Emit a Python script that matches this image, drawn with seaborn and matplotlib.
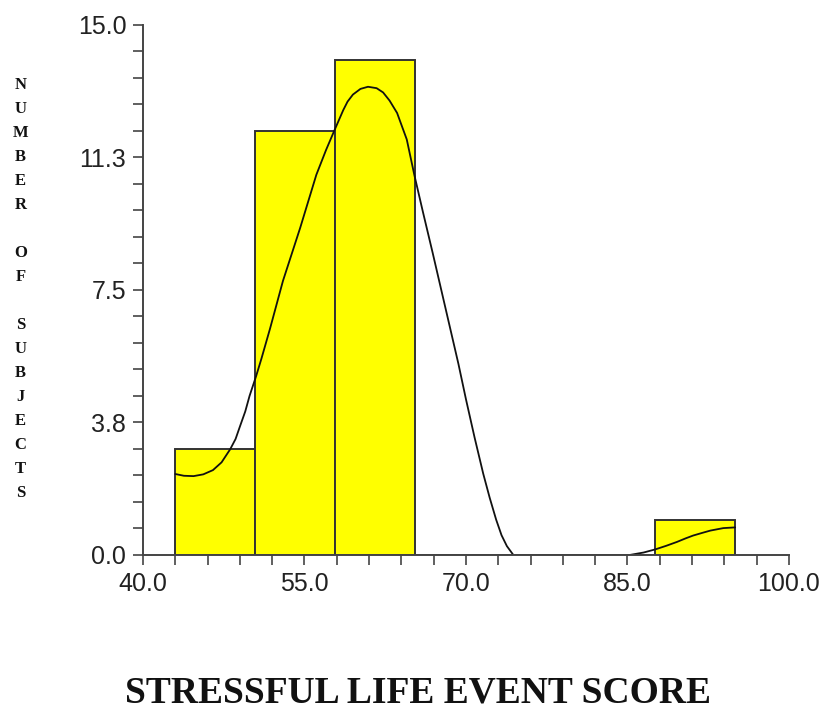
import matplotlib
matplotlib.use("Agg")
import matplotlib.pyplot as plt
from matplotlib.ticker import FixedLocator, FixedFormatter
import seaborn as sns

# Histogram of stressful life event scores (7 equal-width bins, 43 to 95)
bin_edges = [43.0, 50.43, 57.86, 65.29, 72.71, 80.14, 87.57, 95.0]
subject_counts = [3, 12, 14, 0, 0, 0, 1]

# Smoothed density curve, scaled to the count axis
curve_x = [43.0, 43.8, 44.7, 45.6, 46.5, 47.3, 48.1, 48.6, 49.0, 49.5, 49.9,
           50.5, 51.0, 51.8, 53.0, 54.6, 56.1, 57.0, 57.7, 58.6, 59.0, 59.5,
           60.2, 60.9, 61.7, 62.3, 62.9, 63.6, 64.5, 65.2, 66.0, 66.9, 67.7,
           68.5, 69.3, 70.0, 70.8, 71.6, 72.2, 72.8, 73.3, 73.8, 74.4, 80.0,
           85.2, 86.5, 87.6, 88.6, 89.6, 90.4, 91.1, 92.0, 92.7, 93.9, 95.0]
curve_y = [2.29, 2.24, 2.23, 2.28, 2.40, 2.62, 2.99, 3.28, 3.63, 4.06, 4.50,
           5.05, 5.55, 6.40, 7.75, 9.25, 10.75, 11.45, 11.95, 12.58, 12.82, 13.02,
           13.18, 13.24, 13.20, 13.08, 12.85, 12.50, 11.75, 10.75, 9.70, 8.55, 7.50,
           6.45, 5.40, 4.40, 3.32, 2.30, 1.62, 1.00, 0.56, 0.25, 0.0, 0.0,
           0.0, 0.07, 0.16, 0.26, 0.37, 0.47, 0.55, 0.63, 0.69, 0.76, 0.78]

# Axis ticks and labels
x_major = [40, 55, 70, 85, 100]
x_major_labels = ["40.0", "55.0", "70.0", "85.0", "100.0"]
y_major = [0, 3.75, 7.5, 11.25, 15]
y_major_labels = ["0.0", "3.8", "7.5", "11.3", "15.0"]

y_title = "NUMBER OF SUBJECTS"
x_title = "STRESSFUL LIFE EVENT SCORE"

sns.set_style("ticks")
plt.rcParams["font.family"] = ["Liberation Sans", "DejaVu Sans"]

fig = plt.figure(figsize=(8.26, 7.15), dpi=100)
ax = fig.add_axes([0.1731, 0.2238, 0.7821, 0.7419])

centers = [(a + b) / 2 for a, b in zip(bin_edges[:-1], bin_edges[1:])]
sns.histplot(x=centers, weights=subject_counts, bins=bin_edges, ax=ax,
             color="#FFFF00", alpha=1.0, edgecolor="#333333", linewidth=1.4)
sns.lineplot(x=curve_x, y=curve_y, ax=ax, color="#111111", linewidth=1.3,
             sort=False, estimator=None)

ax.set_xlim(40, 100)
ax.set_ylim(0, 15)
ax.set_xlabel("")
ax.set_ylabel("")

ax.xaxis.set_major_locator(FixedLocator(x_major))
ax.xaxis.set_major_formatter(FixedFormatter(x_major_labels))
ax.xaxis.set_minor_locator(FixedLocator([40 + 3 * i for i in range(21)]))
ax.yaxis.set_major_locator(FixedLocator(y_major))
ax.yaxis.set_major_formatter(FixedFormatter(y_major_labels))
ax.yaxis.set_minor_locator(FixedLocator([0.75 * i for i in range(21)]))

ax.tick_params(which="both", direction="out", length=7, width=1.2,
               color="#444444", labelsize=18, labelcolor="#222222", pad=5)
for side in ("left", "bottom"):
    ax.spines[side].set_color("#444444")
    ax.spines[side].set_linewidth(1.4)
sns.despine(ax=ax)

# Vertical stacked axis title, one letter per line
line_px = 24
row = 0
for word_i, word in enumerate(y_title.split(" ")):
    if word_i > 0:
        row += 1
    for ch in word:
        fig.text(0.025, 1 - (85 + line_px * row) / 715, ch, ha="center",
                 va="center", family="Liberation Serif", weight="bold",
                 size=12, color="#111111")
        row += 1

fig.text(0.5055, 0.031, x_title, ha="center", va="center",
         family="Liberation Serif", weight="bold", size=27, color="#111111")

fig.savefig("out.png", dpi=100, facecolor="white")
